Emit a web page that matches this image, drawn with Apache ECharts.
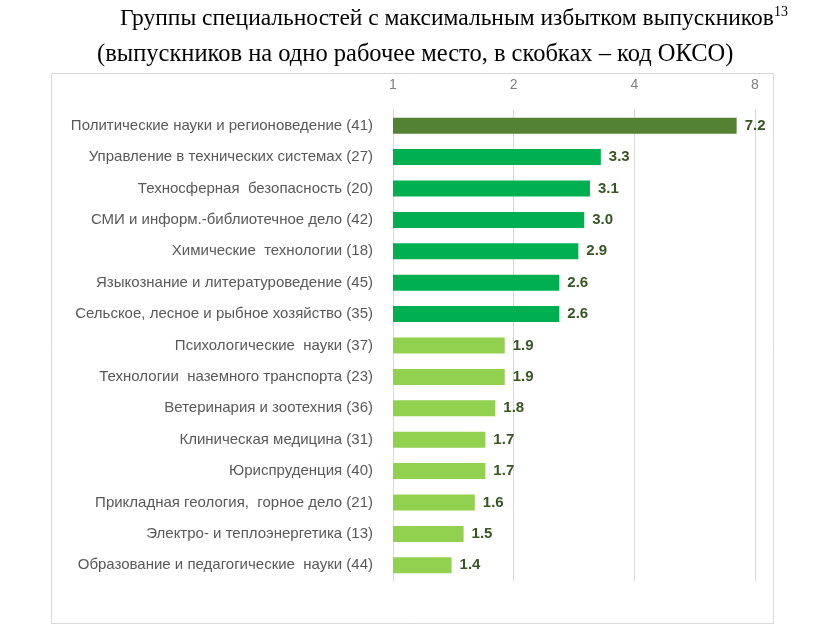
<!DOCTYPE html>
<html>
<head>
<meta charset="utf-8">
<script src="https://cdn.jsdelivr.net/npm/echarts@6/dist/echarts.min.js"></script>
<style>
  html, body { margin: 0; padding: 0; background: #fff; }
  #chart { width: 816px; height: 642px; }
</style>
</head>
<body>
<div id="chart"></div>
<script>
// groups of specialities, top to bottom
const categories = [
    'Политические науки и регионоведение (41)',
    'Управление в технических системах (27)',
    'Техносферная  безопасность (20)',
    'СМИ и информ.-библиотечное дело (42)',
    'Химические  технологии (18)',
    'Языкознание и литературоведение (45)',
    'Сельское, лесное и рыбное хозяйство (35)',
    'Психологические  науки (37)',
    'Технологии  наземного транспорта (23)',
    'Ветеринария и зоотехния (36)',
    'Клиническая медицина (31)',
    'Юриспруденция (40)',
    'Прикладная геология,  горное дело (21)',
    'Электро- и теплоэнергетика (13)',
    'Образование и педагогические  науки (44)'
];
const values = [7.2, 3.3, 3.1, 3.0, 2.9, 2.6, 2.6, 1.9, 1.9, 1.8, 1.7, 1.7, 1.6, 1.5, 1.4];
// colour group of each bar: 0 dark, 1 medium, 2 light
const groups = [0, 1, 1, 1, 1, 1, 1, 2, 2, 2, 2, 2, 2, 2, 2];
const groupColors = ['#548235', '#00b050', '#92d050'];

const chart = echarts.init(document.getElementById('chart'));

const option = {
    animation: false,
    backgroundColor: '#fff',
    graphic: [
        {
            type: 'rect',
            shape: { x: 51.5, y: 73.5, width: 722, height: 550 },
            style: { fill: 'none', stroke: '#d9d9d9', lineWidth: 1 },
            silent: true
        },
        {
            type: 'text',
            left: 120, top: 5,
            style: {
                text: '{t|Группы специальностей с максимальным избытком выпускников}{s|13}',
                rich: {
                    t: { fontFamily: 'Liberation Serif', fontSize: 23.5, fill: '#000', verticalAlign: 'bottom' },
                    s: { fontFamily: 'Liberation Serif', fontSize: 14, fill: '#000', verticalAlign: 'top', padding: [0, 0, 12, 0] }
                }
            }
        },
        {
            type: 'text',
            left: 97, top: 42,
            style: {
                text: '(выпускников на одно рабочее место, в скобках – код ОКСО)',
                fontFamily: 'Liberation Serif', fontSize: 24.5, fill: '#000'
            }
        }
    ],
    grid: { left: 393, right: 61, top: 110, bottom: 61, containLabel: false },
    xAxis: {
        type: 'log',
        logBase: 2,
        min: 1,
        max: 8,
        position: 'top',
        axisLine: { show: false },
        axisTick: { show: false },
        axisLabel: {
            color: '#7f7f7f', fontSize: 14, fontFamily: 'Liberation Sans', margin: 18
        },
        splitLine: { lineStyle: { color: '#d9d9d9', width: 1 } }
    },
    yAxis: {
        type: 'category',
        inverse: true,
        data: categories,
        axisLine: { show: true, lineStyle: { color: '#d9d9d9' } },
        axisTick: { show: false },
        axisLabel: {
            color: '#595959', fontSize: 15, fontFamily: 'Liberation Sans', margin: 20
        }
    },
    series: [{
        type: 'bar',
        barWidth: 16,
        data: values.map((v, i) => ({
            value: v,
            itemStyle: { color: groupColors[groups[i]] }
        })),
        label: {
            show: true,
            position: 'right',
            distance: 8,
            formatter: p => p.value.toFixed(1),
            color: '#375623',
            fontWeight: 'bold',
            fontSize: 15,
            fontFamily: 'Liberation Sans'
        }
    }]
};

chart.setOption(option);
</script>
</body>
</html>
